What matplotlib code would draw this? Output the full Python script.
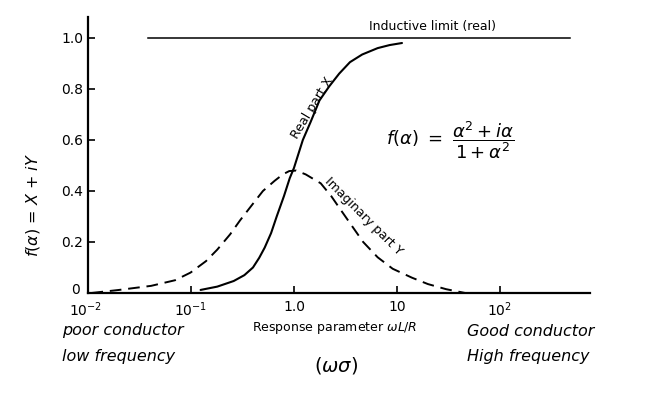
import matplotlib
matplotlib.use("Agg")
import matplotlib.pyplot as plt
import matplotlib.transforms as mtransforms

# ---- data ----
real_alpha = [0.124, 0.18, 0.26, 0.33, 0.40, 0.46, 0.52, 0.60, 0.68, 0.80, 0.91, 1.0, 1.22, 1.45, 1.77, 2.2, 2.75, 3.5, 4.6, 6.5, 8.5, 11.2]
real_X     = [0.012, 0.025, 0.047, 0.07, 0.10, 0.138, 0.178, 0.235, 0.30, 0.38, 0.45, 0.49, 0.60, 0.67, 0.755, 0.81, 0.86, 0.905, 0.935, 0.96, 0.972, 0.98]

imag_alpha = [0.0108, 0.02, 0.041, 0.07, 0.099, 0.14, 0.18, 0.24, 0.30, 0.40, 0.50, 0.65, 0.78, 0.90, 1.05, 1.3, 1.82, 2.3, 2.8, 3.7, 4.7, 6.5, 9.1, 14, 20, 30, 46]
imag_Y     = [0.0, 0.012, 0.028, 0.05, 0.08, 0.125, 0.17, 0.23, 0.285, 0.35, 0.40, 0.44, 0.465, 0.478, 0.48, 0.465, 0.43, 0.38, 0.33, 0.26, 0.2, 0.14, 0.095, 0.06, 0.035, 0.015, 0.0]

limit_alpha = [0.038, 480]
limit_val   = [1.0, 1.0]

xtick_vals   = [0.01, 0.1, 1.0, 10, 100]
xtick_labels = [r"10$^{-2}$", r"10$^{-1}$", "1.0", "10", r"10$^{2}$"]
ytick_vals   = [0, 0.2, 0.4, 0.6, 0.8, 1.0]
ytick_labels = ["0", "0.2", "0.4", "0.6", "0.8", "1.0"]

W, H = 659, 395
fig = plt.figure(figsize=(W / 100, H / 100), dpi=100)
ax = fig.add_axes([88 / W, 1 - 293 / H, (590 - 88) / W, (293 - 17) / H])

ax.plot(limit_alpha, limit_val, color="black", lw=1.1)
ax.plot(real_alpha, real_X, color="black", lw=1.5, solid_capstyle="round")
ax.plot(imag_alpha, imag_Y, color="black", lw=1.4, dashes=(6, 3.5))

ax.set_xscale("log")
ax.set_xlim(0.01, 750)
ax.set_ylim(0, 1.082)
ax.minorticks_off()
ax.set_xticks(xtick_vals)
ax.set_xticklabels(xtick_labels)
ax.set_yticks(ytick_vals)
ax.set_yticklabels(ytick_labels)
ax.tick_params(direction="in", length=5, width=1.2, labelsize=10, colors="black")
ax.tick_params(axis="x", pad=5)
for s in ["top", "right"]:
    ax.spines[s].set_visible(False)
for s in ["left", "bottom"]:
    ax.spines[s].set_linewidth(1.6)

# nudge the "0" y label up and "10^-2" slightly left, as in the reference
lbl0 = ax.get_yticklabels()[0]
lbl0.set_transform(lbl0.get_transform() + mtransforms.ScaledTranslation(-3 / 100, 5 / 100, fig.dpi_scale_trans))
lblx0 = ax.get_xticklabels()[0]
lblx0.set_transform(lblx0.get_transform() + mtransforms.ScaledTranslation(-2 / 100, 0, fig.dpi_scale_trans))

# annotations in data space
ax.text(1.5, 0.725, "Real part X", rotation=59, fontsize=9, ha="center", va="center")
ax.text(4.7, 0.30, "Imaginary part Y", rotation=-45, fontsize=9, ha="center", va="center")
ax.text(22, 1.045, "Inductive limit (real)", fontsize=9, ha="center", va="center")

def ftext(x, y, s, **kw):
    fig.text(x / W, 1 - y / H, s, **kw)

hand = dict(family="DejaVu Sans", style="italic", fontsize=11.5)
ftext(450, 140, r"$f(\alpha)\ =\ \dfrac{\alpha^2+i\alpha}{1+\alpha^2}$", fontsize=13, ha="center", va="center")
ftext(33, 205, r"$f(\alpha)$ = X + iY", rotation=90, ha="center", va="center", **hand)
ftext(62, 331, "poor conductor", ha="left", va="center", **hand)
ftext(62, 357, "low frequency", ha="left", va="center", **hand)
ftext(252, 328, r"Response parameter $\omega L/R$", fontsize=9, ha="left", va="center")
ftext(336, 366, r"($\omega\sigma$)", fontsize=14, ha="center", va="center")
ftext(467, 331, "Good conductor", ha="left", va="center", **hand)
ftext(467, 357, "High frequency", ha="left", va="center", **hand)

fig.savefig("out.png", dpi=100)
